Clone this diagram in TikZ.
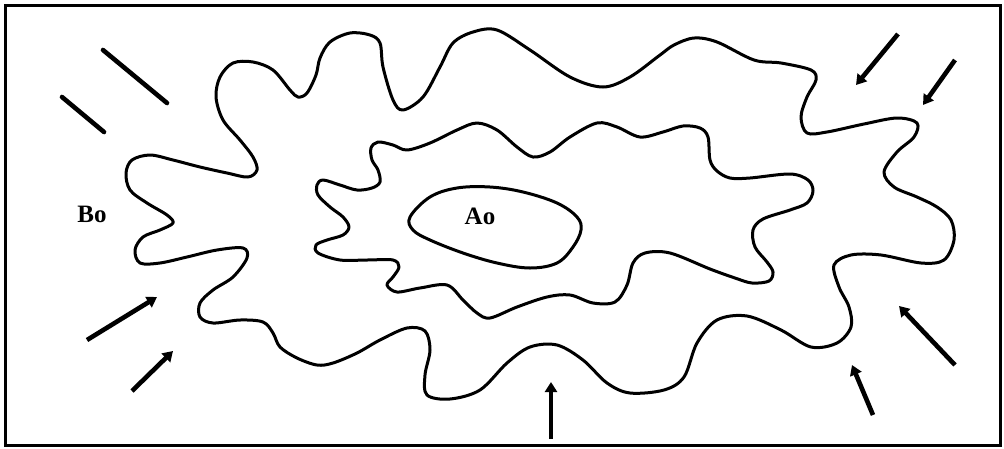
\documentclass[tikz,border=0pt]{standalone}
\usepackage{fontspec}
\setmainfont{Liberation Serif}
\usetikzlibrary{arrows.meta}
\begin{document}
\begin{tikzpicture}[x=1pt,y=-1pt,
  contour/.style={line width=3pt, line join=round},
  inarrow/.style={line width=4.6pt, -{Triangle[length=10pt,width=12pt]}},
  stroke/.style={line width=4.6pt, line cap=round},
  lbl/.style={font=\bfseries\fontsize{25}{25}\selectfont, inner sep=0pt}]
\useasboundingbox (0,0) rectangle (1004,448);
\draw[line width=3pt] (5,5) rectangle (1000,445);
% outer contour
\draw[contour] plot[smooth cycle, tension=0.55] coordinates {
 (350,33) (330,42) (320,58) (316,75) (307,93) (298,97) (290,90) (273,70) (253,62) (233,63) (220,77) (216,97) (223,120) (240,140) (253,157) (257,170) (248,177) (227,173) (200,167) (173,160) (150,155) (132,160) (126,173) (130,190) (147,203) (167,215) (173,223) (160,230) (143,237) (135,250) (140,263) (160,263) (187,257) (217,250) (243,248) (247,258) (233,277) (213,290) (200,303) (200,317) (213,323) (240,320) (263,322) (273,333) (280,347) (297,358) (317,365) (333,363) (357,353) (380,340) (407,328) (425,331) (430,350) (425,375) (427,395) (450,399) (480,390) (507,363) (530,347) (557,345) (583,360) (607,383) (630,393) (664,390) (684,377) (697,343) (717,320) (747,316) (781,330) (811,347) (837,343) (851,327) (849,307) (839,287) (834,265) (851,255) (881,255) (921,263) (944,260) (954,240) (951,220) (937,207) (917,197) (894,187) (884,172) (897,152) (914,137) (917,123) (897,118) (864,124) (827,132) (807,133) (801,117) (807,97) (816,80) (811,70) (781,63) (754,60) (717,42) (694,38) (674,45) (660,55) (630,77) (603,87) (570,77) (530,50) (497,30) (473,32) (453,43) (440,67) (423,97) (403,110) (393,100) (383,67) (380,43) (370,35)};
% middle contour
\draw[contour] plot[smooth cycle, tension=0.55] coordinates {
 (378,142) (393,145) (407,150) (430,143) (457,130) (477,123) (497,130) (517,147) (533,157) (550,152) (570,137) (597,123) (617,127) (640,137) (663,132) (683,126) (700,128) (708,137) (710,160) (717,171) (730,178) (750,178) (790,174) (808,180) (813,191) (807,203) (790,210) (763,219) (753,230) (755,247) (767,262) (773,272) (769,281) (752,283) (735,278) (710,269) (670,253) (645,253) (633,263) (627,285) (615,302) (593,303) (570,295) (547,297) (517,307) (490,318) (477,313) (463,300) (447,285) (420,288) (397,292) (387,285) (393,277) (399,267) (393,260) (367,260) (340,260) (318,253) (316,245) (327,240) (343,235) (349,227) (343,217) (330,207) (318,195) (317,185) (323,180) (340,185) (357,190) (372,188) (380,182) (378,170) (372,160) (371,148)};
% inner ellipse
\draw[contour] plot[smooth cycle, tension=0.6] coordinates {
 (410,217) (430,197) (457,188) (490,187) (523,192) (557,203) (577,217) (581,230) (573,247) (557,263) (530,268) (497,263) (463,253) (430,240) (413,230)};
\node[lbl] (Ao) at (480,216) {Ao};
\node[lbl] (Bo) at (92,214) {Bo};
% strokes and arrows
\coordinate (s1a) at (103,50);  \coordinate (s1b) at (167,103);
\coordinate (s2a) at (62,97);   \coordinate (s2b) at (104,132);
\draw[stroke] (s1a) -- (s1b);
\draw[stroke] (s2a) -- (s2b);
\coordinate (l1a) at (87,340);  \coordinate (l1b) at (157,297);
\coordinate (l2a) at (132,391); \coordinate (l2b) at (173,351);
\coordinate (ba) at (551,439);  \coordinate (bb) at (551,382);
\coordinate (r1a) at (898,34);  \coordinate (r1b) at (856,85);
\coordinate (r2a) at (955,60);  \coordinate (r2b) at (923,105);
\coordinate (r3a) at (955,365); \coordinate (r3b) at (899,306);
\coordinate (r4a) at (873,415); \coordinate (r4b) at (852,365);
\foreach \a/\b in {l1a/l1b, l2a/l2b, ba/bb, r1a/r1b, r2a/r2b, r3a/r3b, r4a/r4b}
  \draw[inarrow] (\a) -- (\b);
\end{tikzpicture}
\end{document}
